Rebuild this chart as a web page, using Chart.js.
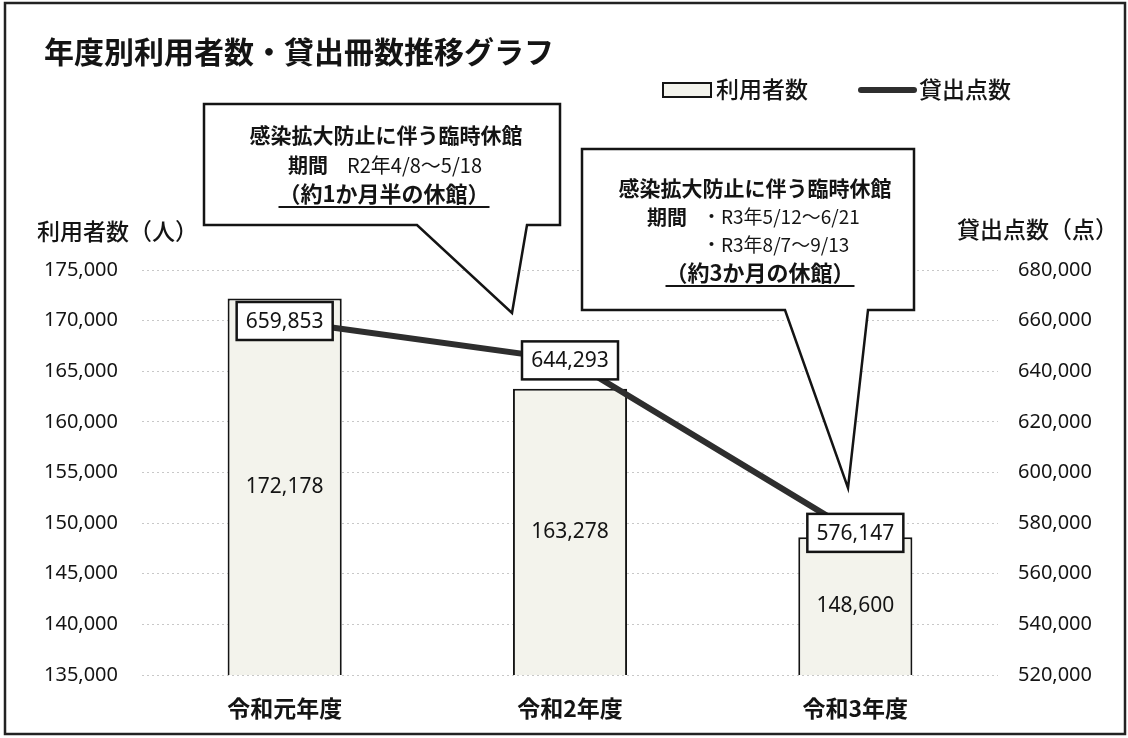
<!DOCTYPE html>
<html>
<head>
<meta charset="utf-8">
<script src="https://cdn.jsdelivr.net/npm/chart.js@4.4.1/dist/chart.umd.min.js"></script>
<style>
html,body{margin:0;padding:0;background:#ffffff;}
#wrap{width:1128px;height:738px;position:relative;}
</style>
</head>
<body>
<div id="wrap"><canvas id="c" width="1128" height="738"></canvas></div>
<script>
// ---- data ----
const categories = ['令和元年度', '令和2年度', '令和3年度'];
const userCounts = [172178, 163278, 148600];   // 利用者数（人）
const loanCounts = [659853, 644293, 576147];   // 貸出点数（点）
const seriesNames = ['利用者数', '貸出点数'];
const leftAxisRange = [135000, 175000, 5000];
const rightAxisRange = [520000, 680000, 20000];
const titleText = '年度別利用者数・貸出冊数推移グラフ';
const leftAxisTitle = '利用者数（人）';
const rightAxisTitle = '貸出点数（点）';
const callout1Lines = ['感染拡大防止に伴う臨時休館', '期間', 'R2年4/8〜5/18', '（約1か月半の休館）'];
const callout2Lines = ['感染拡大防止に伴う臨時休館', '期間', '・R3年5/12〜6/21', '・R3年8/7〜9/13', '（約3か月の休館）'];

const JP = '"Noto Sans CJK JP", "Noto Sans", sans-serif';
const NUM = '"Noto Sans", "DejaVu Sans", sans-serif';
const BAR_FILL = '#f3f3ec';
const INK = '#141414';
const fmt = v => Number(v).toLocaleString('en-US');

function drawCallout(ctx, box, tail) {
  ctx.save();
  ctx.beginPath();
  ctx.moveTo(box.l, box.t);
  ctx.lineTo(box.r, box.t);
  ctx.lineTo(box.r, box.b);
  ctx.lineTo(tail.br, box.b);
  ctx.lineTo(tail.tx, tail.ty);
  ctx.lineTo(tail.bl, box.b);
  ctx.lineTo(box.l, box.b);
  ctx.closePath();
  ctx.fillStyle = '#ffffff';
  ctx.fill();
  ctx.lineWidth = 2.5;
  ctx.lineJoin = 'miter';
  ctx.strokeStyle = INK;
  ctx.stroke();
  ctx.restore();
}

function textCenter(ctx, txt, cx, cy, font, underline) {
  ctx.font = font;
  ctx.textAlign = 'center';
  ctx.textBaseline = 'middle';
  ctx.fillStyle = INK;
  ctx.fillText(txt, cx, cy);
  if (underline) {
    const w = ctx.measureText(txt).width;
    ctx.fillRect(cx - w / 2, underline, w, 2);
  }
}
function textLeft(ctx, txt, x, cy, font) {
  ctx.font = font;
  ctx.textAlign = 'left';
  ctx.textBaseline = 'middle';
  ctx.fillStyle = INK;
  ctx.fillText(txt, x, cy);
}

const decorPlugin = {
  id: 'decor',
  afterDatasetsDraw(chart) {
    const ctx = chart.ctx;
    const yScale = chart.scales.y;
    const baseY = yScale.getPixelForValue(yScale.min);
    // bar value labels (centre of each bar)
    const barMeta = chart.getDatasetMeta(0);
    barMeta.data.forEach((el, i) => {
      const p = el.getProps(['x', 'y'], true);
      const cy = (p.y + baseY) / 2;
      textCenter(ctx, fmt(userCounts[i]), p.x, cy, '21px ' + NUM);
    });
    // line value labels in boxes
    const lineMeta = chart.getDatasetMeta(1);
    lineMeta.data.forEach((el, i) => {
      const p = el.getProps(['x', 'y'], true);
      const w = 96, h = 38;
      ctx.save();
      ctx.fillStyle = '#ffffff';
      ctx.fillRect(p.x - w / 2, p.y - h / 2, w, h);
      ctx.lineWidth = 2.5;
      ctx.strokeStyle = INK;
      ctx.strokeRect(p.x - w / 2, p.y - h / 2, w, h);
      ctx.restore();
      textCenter(ctx, fmt(loanCounts[i]), p.x, p.y + 1, '21px ' + NUM);
    });
  },
  afterDraw(chart) {
    const ctx = chart.ctx;
    ctx.save();
    // outer frame
    ctx.lineWidth = 2.5;
    ctx.strokeStyle = '#222';
    ctx.strokeRect(5, 3, 1120, 731);
    // title
    textLeft(ctx, titleText, 44, 52, 'bold 30px ' + JP);
    // legend
    ctx.fillStyle = BAR_FILL;
    ctx.fillRect(663, 83, 48, 14);
    ctx.lineWidth = 2;
    ctx.strokeStyle = INK;
    ctx.strokeRect(663, 83, 48, 14);
    textLeft(ctx, seriesNames[0], 716, 89, '500 23px ' + JP);
    ctx.beginPath();
    ctx.lineCap = 'round';
    ctx.lineWidth = 6;
    ctx.strokeStyle = '#2e2e2e';
    ctx.moveTo(861, 90); ctx.lineTo(914, 90);
    ctx.stroke();
    textLeft(ctx, seriesNames[1], 919, 89, '500 23px ' + JP);
    // axis titles
    textLeft(ctx, leftAxisTitle, 37, 231, '500 23px ' + JP);
    textLeft(ctx, rightAxisTitle, 957, 229, '500 23px ' + JP);

    // callout 1
    drawCallout(ctx, {l: 204, t: 104, r: 560, b: 225}, {bl: 417, br: 527, tx: 512, ty: 313});
    textCenter(ctx, callout1Lines[0], 386, 135, 'bold 21px ' + JP);
    textLeft(ctx, callout1Lines[1], 288, 165, 'bold 20px ' + JP);
    textLeft(ctx, callout1Lines[2], 347, 165, '20px ' + JP);
    textCenter(ctx, callout1Lines[3], 384, 194, 'bold 22px ' + JP, 206);

    // callout 2
    drawCallout(ctx, {l: 582, t: 149, r: 914, b: 310}, {bl: 785, br: 868, tx: 848, ty: 488});
    textCenter(ctx, callout2Lines[0], 755, 188, 'bold 21px ' + JP);
    textLeft(ctx, callout2Lines[1], 647, 217, 'bold 20px ' + JP);
    textLeft(ctx, callout2Lines[2], 702, 217, '19px ' + JP);
    textLeft(ctx, callout2Lines[3], 702, 245, '19px ' + JP);
    textCenter(ctx, callout2Lines[4], 760, 273, 'bold 22px ' + JP, 285);
    ctx.restore();
  }
};

new Chart(document.getElementById('c'), {
  data: {
    labels: categories,
    datasets: [
      {
        type: 'bar',
        label: seriesNames[0],
        data: userCounts,
        yAxisID: 'y',
        backgroundColor: BAR_FILL,
        borderColor: INK,
        borderWidth: 2,
        borderSkipped: c => (c.dataIndex === 2 ? false : 'bottom'),
        categoryPercentage: 1.0,
        barPercentage: 0.4,
        order: 2
      },
      {
        type: 'line',
        label: seriesNames[1],
        data: loanCounts,
        yAxisID: 'y2',
        borderColor: '#2e2e2e',
        borderWidth: 6,
        pointRadius: 0,
        tension: 0,
        fill: false,
        order: 1
      }
    ]
  },
  options: {
    responsive: false,
    devicePixelRatio: 1,
    animation: false,
    events: [],
    layout: { padding: { top: 270, left: 0, right: 0, bottom: 0 } },
    plugins: { legend: { display: false }, title: { display: false }, tooltip: { enabled: false } },
    scales: {
      x: {
        type: 'category',
        offset: true,
        grid: { display: false, drawTicks: false },
        border: { display: false },
        ticks: { color: INK, font: { family: JP, size: 23, weight: 'bold' }, padding: 19, maxRotation: 0 },
        afterFit: s => { s.height = 63; }
      },
      y: {
        type: 'linear',
        position: 'left',
        min: leftAxisRange[0],
        max: leftAxisRange[1],
        grid: { color: '#c8c8c8', lineWidth: 1, drawTicks: false },
        border: { display: false, dash: [2, 3] },
        ticks: { stepSize: leftAxisRange[2], color: INK, padding: 24,
                 font: { family: NUM, size: 20 }, callback: v => fmt(v) },
        afterFit: s => { s.width = 142; }
      },
      y2: {
        type: 'linear',
        position: 'right',
        min: rightAxisRange[0],
        max: rightAxisRange[1],
        grid: { display: false, drawTicks: false },
        border: { display: false },
        ticks: { stepSize: rightAxisRange[2], color: INK, padding: 20,
                 font: { family: NUM, size: 20 }, callback: v => fmt(v) },
        afterFit: s => { s.width = 130; }
      }
    }
  },
  plugins: [decorPlugin]
});
</script>
</body>
</html>
